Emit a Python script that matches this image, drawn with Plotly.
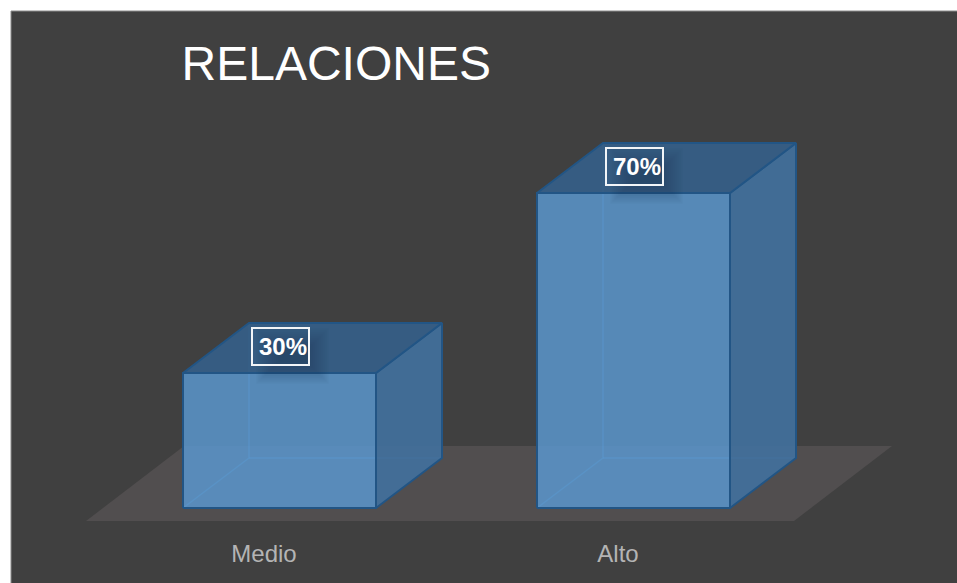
import plotly.graph_objects as go

# Chart content
title = "RELACIONES"
categories = ["Medio", "Alto"]
values = [30, 70]

# Page and scale set-up, in pixels
W, H = 957, 583
PX_PER_CAT = 354.0
PX_PER_PCT = 4.5
ORIGIN_X = 279.5
ORIGIN_Y = 508.0


def ux(px):
    return px / PX_PER_CAT


def uy(px):
    return px / PX_PER_PCT


# Box geometry of the pseudo-3D columns, in axis units
half_w = ux(96.5)
depth_x = ux(66)
depth_y = uy(50)

EDGE = "#225585"
FRONT = "rgba(91,155,213,0.8)"
SIDE = "rgba(66,112,156,0.93)"
TOP = "rgba(54,94,134,0.95)"
INNER = "rgba(84,150,212,0.45)"

fig = go.Figure()


def poly(xs, ys, fill, line_color, width):
    fig.add_trace(go.Scatter(
        x=xs, y=ys, mode="lines", fill="toself", fillcolor=fill,
        line=dict(color=line_color, width=width),
        hoverinfo="skip", showlegend=False,
    ))


# Floor plane beneath the columns
floor_left = ux(86 - ORIGIN_X)
floor_right = ux(794 - ORIGIN_X)
floor_low = uy(508 - 521)
floor_high = uy(508 - 446)
floor_dx = ux(98)
poly([floor_left, floor_right, floor_right + floor_dx, floor_left + floor_dx, floor_left],
     [floor_low, floor_low, floor_high, floor_high, floor_low],
     "#514E4F", "rgba(0,0,0,0)", 0)

# Columns: hidden edges first, then the three visible faces
for i, v in enumerate(values):
    x0, x1 = i - half_w, i + half_w
    fig.add_trace(go.Scatter(
        x=[x0, x0 + depth_x, x0 + depth_x, None, x0 + depth_x, x1 + depth_x],
        y=[0, depth_y, v + depth_y, None, depth_y, depth_y],
        mode="lines", line=dict(color=INNER, width=1.5),
        hoverinfo="skip", showlegend=False,
    ))
    poly([x1, x1 + depth_x, x1 + depth_x, x1, x1],
         [0, depth_y, v + depth_y, v, 0], SIDE, EDGE, 2)
    poly([x0, x0 + depth_x, x1 + depth_x, x1, x0],
         [v, v + depth_y, v + depth_y, v, v], TOP, EDGE, 2)
    poly([x0, x1, x1, x0, x0],
         [0, 0, v, v, 0], FRONT, EDGE, 2)

# Soft drop shadow behind each value label, built from nested rectangles
shapes = [dict(
    type="rect", xref="paper", yref="paper", layer="below",
    x0=11 / W, x1=1.01, y0=-0.01, y1=1 - 11 / H,
    fillcolor="#404040", line=dict(color="#8C8C8C", width=1),
)]
for i, v in enumerate(values):
    cx, cy = i + ux(1), v + uy(26.5)
    for step in range(12):
        inset = step * 2.0
        shapes.append(dict(
            type="rect", xref="x", yref="y", layer="above",
            x0=cx + ux(-24 + inset), x1=cx + ux(48 - inset),
            y0=cy + uy(-37 + inset), y1=cy + uy(18 - inset),
            fillcolor="rgba(25,45,70,0.04)", line=dict(width=0),
        ))

# Value labels in white-outlined boxes
annotations = [dict(
    x=i + ux(1), y=v + uy(26.5), xref="x", yref="y", text=f"<b>{v}%</b>",
    showarrow=False, width=53, height=33, align="right", valign="middle",
    font=dict(family="Liberation Sans", size=24, color="white"),
    bordercolor="#F2F5F8", borderwidth=2, borderpad=1,
) for i, v in enumerate(values)]

fig.update_layout(
    width=W, height=H, autosize=False,
    margin=dict(l=0, r=0, t=0, b=0),
    paper_bgcolor="white", plot_bgcolor="rgba(0,0,0,0)",
    showlegend=False,
    title=dict(
        text=title, x=181.5 / W, xanchor="left", xref="paper",
        y=1 - 63.5 / H, yanchor="middle", yref="paper",
        font=dict(family="Liberation Sans", size=48, color="white"),
    ),
    xaxis=dict(
        range=[ux(-ORIGIN_X), ux(W - ORIGIN_X)],
        tickmode="array",
        tickvals=[i - ux(15.5) for i in range(len(categories))],
        ticktext=categories,
        tickfont=dict(family="Liberation Sans", size=24, color="#B4B4B4"),
        showgrid=False, zeroline=False, showline=False, ticks="",
        anchor="free", position=1 - 537 / H, automargin=False,
    ),
    yaxis=dict(
        range=[uy(ORIGIN_Y - H), uy(ORIGIN_Y)],
        visible=False, showgrid=False, zeroline=False,
    ),
    shapes=shapes,
    annotations=annotations,
)

fig.write_html("out.html", config=dict(displayModeBar=False))
